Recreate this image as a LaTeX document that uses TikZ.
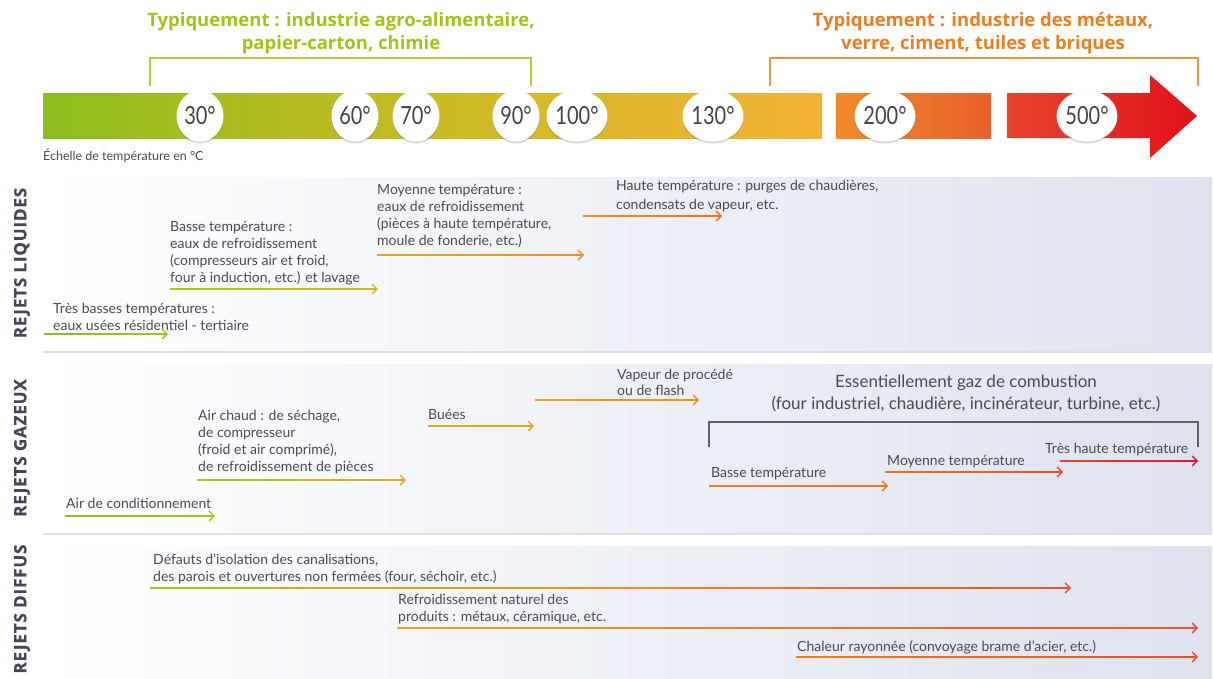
\documentclass[tikz,border=0pt]{standalone}
\usepackage{fontspec}
\setmainfont{Lato}
\newfontfamily\headfont{Open Sans}
\usetikzlibrary{arrows.meta,shapes.geometric,shadows}
\definecolor{txt}{HTML}{4A4A52}
\definecolor{lbl}{HTML}{45465A}
\definecolor{gA}{HTML}{8DBE1E}
\definecolor{gB}{HTML}{A8C31A}
\definecolor{gC}{HTML}{C9BB22}
\definecolor{gD}{HTML}{E2B02A}
\definecolor{gE}{HTML}{F6B336}
\definecolor{oA}{HTML}{F08A2A}
\definecolor{oB}{HTML}{E8602A}
\definecolor{rA}{HTML}{E5452A}
\definecolor{rB}{HTML}{E2101C}
\definecolor{tgreen}{HTML}{A6C21A}
\definecolor{torange}{HTML}{EE7D1F}
\definecolor{panR}{HTML}{DDE2EE}
\definecolor{aGold}{HTML}{E0AA20}
\definecolor{aOr}{HTML}{F0901E}
\definecolor{aOr2}{HTML}{EE741E}
\definecolor{aRo}{HTML}{E9502A}
\definecolor{aRed}{HTML}{E3142A}
\newcommand\garr[6]{%
  \coordinate (#1s) at (#2,#4);
  \coordinate (#1e) at (#3,#4);
  \shade[left color=#5,right color=#6] ([yshift=-0.9pt]#1s) rectangle ([yshift=0.9pt,xshift=-1.5pt]#1e);
  \draw[#6,line width=1.3pt,-{Straight Barb[length=5pt,width=10pt]}] ([xshift=-7pt]#1e) -- (#1e);
}
\begin{document}
\begin{tikzpicture}[x=1pt,y=-1pt,
  body/.style={anchor=north west,inner sep=0pt,text=txt,align=left,font=\fontsize{14}{17}\selectfont},
  title/.style={inner sep=0pt,align=center,font=\headfont\bfseries\fontsize{18.5}{22.5}\selectfont},
  tcirc/.style={ellipse,fill=white,minimum width=47pt,minimum height=51pt,inner sep=0pt,text=txt!90!black,
     font=\fontsize{25}{25}\selectfont\addfontfeatures{FakeStretch=0.8},drop shadow={opacity=0.3,shadow xshift=0pt,shadow yshift=-2pt}},
  panel/.style={left color=white,right color=panR,drop shadow={opacity=0.25,shadow xshift=0pt,shadow yshift=-2.5pt}},
  side/.style={rotate=90,inner sep=0pt,text=lbl,font=\headfont\bfseries\fontsize{17}{17}\selectfont\addfontfeatures{LetterSpace=5,FakeBold=0.6}},
  bracket/.style={line width=1.5pt}]
\useasboundingbox (0,0) rectangle (1213,678);
\fill[white] (0,0) rectangle (1213,678);

% titles
\node[title,text=tgreen] (tg) at (341,33) {Typiquement : industrie agro-alimentaire,\\papier-carton, chimie};
\node[title,text=torange] (to) at (983,33) {Typiquement : industrie des métaux,\\verre, ciment, tuiles et briques};
\draw[bracket,tgreen!85!white] (150,86) -- (150,58) -- (531,58) -- (531,86);
\draw[bracket,torange!85!white] (770,86) -- (770,58) -- (1198,58) -- (1198,86);

% temperature bar
\shade[left color=gA,right color=gC] (43,93) rectangle (430,138);
\shade[left color=gC,right color=gE] (429.5,93) rectangle (822,138);
\shade[left color=oA,right color=oB] (836,93) rectangle (991,138);
\shade[left color=rA,right color=rB] (1007,93) -- (1150,93) -- (1150,75) -- (1197,116) -- (1150,158) -- (1150,138) -- (1007,138) -- cycle;
\node[tcirc] (c30) at (200,116) {30°};
\node[tcirc] (c60) at (355,116) {60°};
\node[tcirc] (c70) at (416,116) {70°};
\node[tcirc] (c90) at (516,116) {90°};
\node[tcirc] (c100) at (577,116) {100°};
\node[tcirc] (c130) at (713,116) {130°};
\node[tcirc] (c200) at (885,116) {200°};
\node[tcirc] (c500) at (1087,116) {500°};
\node[anchor=west,inner sep=0pt,text=txt,font=\fontsize{12.5}{12.5}\selectfont] (scale) at (43,156) {Échelle de température en °C};

% panels
\shade[panel] (43,177) rectangle (1212,350);
\shade[panel] (43,364) rectangle (1212,532);
\shade[panel] (43,546) rectangle (1212,690);
\node[side] (s1) at (22,263) {REJETS LIQUIDES};
\node[side] (s2) at (22,448) {REJETS GAZEUX};
\node[side] (s3) at (22,609) {REJETS DIFFUS};

% panel 1 : liquides
\node[body] (l1) at (53,303) {Très basses températures :\\eaux usées résidentiel - tertiaire};
\garr{al1}{44}{168}{334}{gA}{gB}
\node[body] (l2) at (170,221) {Basse température :\\eaux de refroidissement\\(compresseurs air et froid,\\four à induction, etc.) et lavage};
\garr{al2}{170}{378}{289}{gB}{gC}
\node[body] (l3) at (377,184) {Moyenne température :\\eaux de refroidissement\\(pièces à haute température,\\moule de fonderie, etc.)};
\garr{al3}{377}{584}{255}{aGold}{aOr}
\node[body,font=\fontsize{14}{18.5}\selectfont] (l4) at (616,180) {Haute température : purges de chaudières,\\condensats de vapeur, etc.};
\garr{al4}{583}{722}{216}{aOr}{aOr2}

% panel 2 : gazeux
\node[body] (g1) at (66,498) {Air de conditionnement};
\garr{ag1}{65}{215}{516}{gA}{gB}
\node[body] (g2) at (198,410) {Air chaud : de séchage,\\de compresseur\\(froid et air comprimé),\\de refroidissement de pièces};
\garr{ag2}{197}{406}{480}{gB}{aGold}
\node[body] (g3) at (428,409) {Buées};
\garr{ag3}{428}{534}{426}{aGold}{aGold!80!aOr}
\node[body,font=\fontsize{14}{15.5}\selectfont] (g4) at (617,369) {Vapeur de procédé\\ou de flash};
\garr{ag4}{535}{699}{400}{aGold!70!aOr}{aOr}
\node[inner sep=0pt,text=txt,align=center,font=\fontsize{17}{22}\selectfont] (g5) at (966,393) {Essentiellement gaz de combustion\\(four industriel, chaudière, incinérateur, turbine, etc.)};
\draw[bracket,gray!75!black] (709,447) -- (709,422) -- (1198,422) -- (1198,447);
\node[body] (g6) at (711,467) {Basse température};
\garr{ag6}{709}{888}{486}{torange}{aOr2}
\node[body] (g7) at (887,455) {Moyenne température};
\garr{ag7}{885}{1063}{472}{aOr2}{aRo}
\node[body] (g8) at (1045,443) {Très haute température};
\garr{ag8}{1060}{1198}{461}{rA}{aRed}

% panel 3 : diffus
\node[body] (d1) at (153,554) {Défauts d’isolation des canalisations,\\des parois et ouvertures non fermées (four, séchoir, etc.)};
\shade[left color=gB,right color=aOr] (150,587.1) rectangle (610,588.9);
\garr{ad1}{609}{1071}{588}{aOr}{aRo}
\node[body] (d2) at (398,594) {Refroidissement naturel des\\produits : métaux, céramique, etc.};
\garr{ad2}{397}{1198}{628}{aGold}{aRo}
\node[body] (d3) at (797,640) {Chaleur rayonnée (convoyage brame d’acier, etc.)};
\garr{ad3}{796}{1198}{657}{torange}{aRo}
\end{tikzpicture}
\end{document}
